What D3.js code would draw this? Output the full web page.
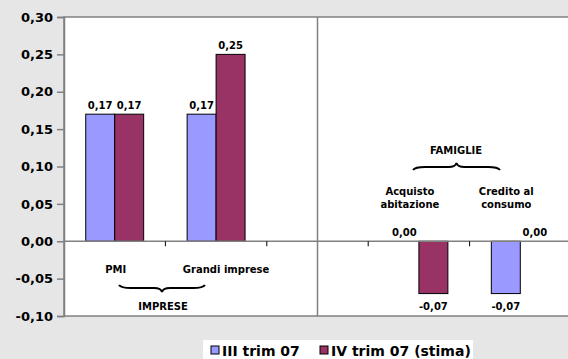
<!DOCTYPE html>
<html>
<head>
<meta charset="utf-8">
<script src="https://cdn.jsdelivr.net/npm/d3@7"></script>
<style>
  html, body { margin: 0; padding: 0; background: #e6e6e6; }
  svg { display: block; }
  text { font-family: "DejaVu Sans", sans-serif; font-weight: bold; fill: #000; }
</style>
</head>
<body>
<svg id="chart" width="568" height="359"></svg>
<script>
// Categories (the middle slot is an empty spacer between the two groups)
const categories = ["PMI", "Grandi imprese", "", "Acquisto abitazione", "Credito al consumo"];
const seriesNames = ["III trim 07", "IV trim 07 (stima)"];
const seriesColors = ["#9999ff", "#993366"];
const trim3 = [0.17, 0.17, null, 0.00, -0.07];
const trim4 = [0.17, 0.25, null, -0.07, 0.00];
const yTicks = [-0.10, -0.05, 0.00, 0.05, 0.10, 0.15, 0.20, 0.25, 0.30];

const series = [trim3, trim4];
const FONT = "'DejaVu Sans', sans-serif";

const locale = d3.formatLocale({ decimal: ",", thousands: ".", grouping: [3], currency: ["", " €"], minus: "-" });
const fmt = locale.format(".2f");

const svg = d3.select("#chart");
const plot = { left: 64, top: 17, right: 571, bottom: 316 };

const y = d3.scaleLinear().domain([-0.10, 0.30]).range([plot.bottom, plot.top]);
const x0 = d3.scaleBand().domain(d3.range(categories.length)).range([plot.left, plot.right]).paddingInner(0).paddingOuter(0);
const x1 = d3.scaleBand().domain([0, 1]).range([0, x0.bandwidth()]).paddingInner(0).paddingOuter(0.75);

// plot area
svg.append("rect")
  .attr("x", plot.left).attr("y", plot.top)
  .attr("width", plot.right - plot.left).attr("height", plot.bottom - plot.top)
  .attr("fill", "#fff").attr("stroke", "#808080").attr("stroke-width", 1.5);

// divider between the two groups, at the centre of the spacer slot
svg.append("line")
  .attr("x1", x0(2) + x0.bandwidth() / 2).attr("x2", x0(2) + x0.bandwidth() / 2)
  .attr("y1", plot.top).attr("y2", plot.bottom)
  .attr("stroke", "#808080").attr("stroke-width", 1.5);

// y axis
const yAxis = svg.append("g")
  .attr("transform", `translate(${plot.left},0)`)
  .call(d3.axisLeft(y).tickValues(yTicks).tickFormat(fmt).tickSize(7).tickPadding(4));
yAxis.select(".domain").attr("stroke", "#808080").attr("stroke-width", 1.5);
yAxis.selectAll(".tick line").attr("stroke", "#808080").attr("stroke-width", 1.5);
yAxis.selectAll(".tick text").attr("font-size", 13).attr("font-family", FONT).attr("font-weight", "bold").attr("fill", "#000");

// bars
series.forEach((vals, s) => {
  svg.append("g").selectAll("rect")
    .data(vals.map((v, i) => ({ v, i })).filter(d => d.v !== null && d.v !== 0))
    .join("rect")
    .attr("x", d => x0(d.i) + x1(s))
    .attr("width", x1.bandwidth())
    .attr("y", d => y(Math.max(0, d.v)))
    .attr("height", d => Math.abs(y(d.v) - y(0)))
    .attr("fill", seriesColors[s])
    .attr("stroke", "#000").attr("stroke-width", 1);
});

// zero line with category separators
svg.append("line")
  .attr("x1", plot.left).attr("x2", plot.right)
  .attr("y1", y(0)).attr("y2", y(0))
  .attr("stroke", "#808080").attr("stroke-width", 1.5);
svg.append("g").selectAll("line")
  .data(d3.range(1, categories.length))
  .join("line")
  .attr("x1", i => x0(i)).attr("x2", i => x0(i))
  .attr("y1", y(0)).attr("y2", y(0) + 5)
  .attr("stroke", "#000").attr("stroke-width", 1);

// value labels
series.forEach((vals, s) => {
  svg.append("g").selectAll("text")
    .data(vals.map((v, i) => ({ v, i })).filter(d => d.v !== null))
    .join("text")
    .attr("x", d => x0(d.i) + x1(s) + x1.bandwidth() / 2)
    .attr("y", d => d.v >= 0 ? y(d.v) - 5 : y(d.v) + 16)
    .attr("text-anchor", "middle")
    .attr("font-size", 10)
    .text(d => fmt(d.v));
});

// category labels
const cx = i => x0(i) + x0.bandwidth() / 2;
svg.append("text").attr("x", cx(0) + 1).attr("y", 273).attr("text-anchor", "middle").attr("font-size", 10).text(categories[0]);
svg.append("text").attr("x", cx(1) + 10).attr("y", 273).attr("text-anchor", "middle").attr("font-size", 10).text(categories[1]);
[[3, ["Acquisto", "abitazione"], -9], [4, ["Credito al", "consumo"], -14]].forEach(([i, lines, dx]) => {
  const t = svg.append("text").attr("text-anchor", "middle").attr("font-size", 10);
  lines.forEach((l, k) => t.append("tspan").attr("x", cx(i) + dx).attr("y", 195 + k * 13).text(l));
});

// group braces
function brace(xa, xb, yb, dir) {
  const m = (xa + xb) / 2, h = 7 * dir, q = 3 * dir;
  return `M${xa},${yb} Q${xa + 2},${yb + q} ${xa + 12},${yb + q} L${m - 8},${yb + q} Q${m - 1},${yb + q} ${m},${yb + h}` +
         ` Q${m + 1},${yb + q} ${m + 8},${yb + q} L${xb - 12},${yb + q} Q${xb - 2},${yb + q} ${xb},${yb}`;
}
svg.append("path").attr("d", brace(119, 205, 285, 1)).attr("fill", "none").attr("stroke", "#000").attr("stroke-width", 2);
svg.append("text").attr("x", 163).attr("y", 310).attr("text-anchor", "middle").attr("font-size", 10).text("IMPRESE");
svg.append("path").attr("d", brace(413, 500, 170, -1)).attr("fill", "none").attr("stroke", "#000").attr("stroke-width", 2);
svg.append("text").attr("x", 456).attr("y", 154).attr("text-anchor", "middle").attr("font-size", 10).text("FAMIGLIE");

// legend
const legend = svg.append("g");
legend.append("rect").attr("x", 203).attr("y", 340).attr("width", 270).attr("height", 19).attr("fill", "#fff");
const legX = [211, 320];
seriesNames.forEach((n, s) => {
  legend.append("rect").attr("x", legX[s]).attr("y", 346).attr("width", 8).attr("height", 8)
    .attr("fill", seriesColors[s]).attr("stroke", "#000").attr("stroke-width", 1);
  legend.append("text").attr("x", legX[s] + 11).attr("y", 355.5).attr("font-size", 14).text(n);
});
</script>
</body>
</html>
